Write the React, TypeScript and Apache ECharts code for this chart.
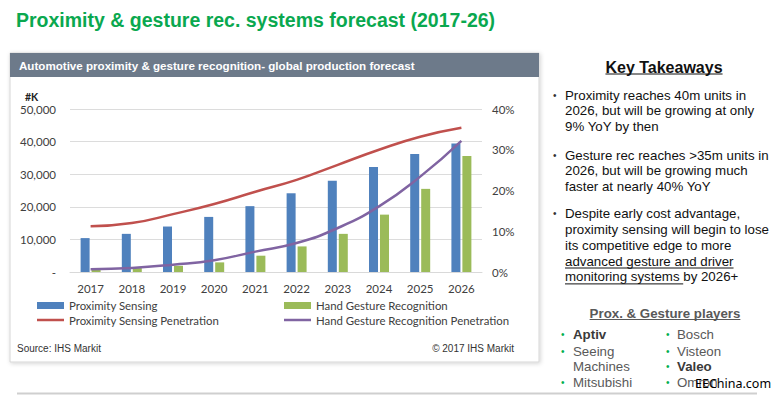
import React, { useEffect, useRef } from 'react';
import * as echarts from 'echarts';

const years = ['2017', '2018', '2019', '2020', '2021', '2022', '2023', '2024', '2025', '2026'];
const proximityUnits = [10400, 11700, 13950, 16900, 20200, 24150, 28000, 32200, 36200, 39450];
const gestureUnits = [700, 1200, 1900, 2950, 5000, 7850, 11700, 17600, 25500, 35550];
const proximityPenetration = [11.2, 12.0, 14.2, 16.7, 19.7, 22.6, 26.3, 30.0, 33.2, 35.4];
const gesturePenetration = [0.7, 1.0, 1.8, 2.9, 5.0, 7.1, 10.8, 16.1, 23.4, 32.2];

const leftAxisMax = 50000;
const leftAxisStep = 10000;
const rightAxisMax = 40;
const rightAxisStep = 10;

const pageTitle = 'Proximity & gesture rec. systems forecast (2017-26)';
const chartHeader = 'Automotive proximity & gesture recognition- global production forecast';
const unitLabel = '#K';
const sourceText = 'Source: IHS Markit';
const copyrightText = '© 2017 IHS Markit';

const takeawaysTitle = 'Key Takeaways';
const bullet1 = ['Proximity reaches 40m units in', '2026, but will be growing at only', '9% YoY by then'];
const bullet2 = ['Gesture rec reaches >35m units in', '2026, but will be growing much', 'faster at nearly 40% YoY'];
const bullet3 = ['Despite early cost advantage,', 'proximity sensing will begin to lose', 'its competitive edge to more'];
const bullet3Underlined = ['advanced gesture and driver', 'monitoring systems '];
const bullet3Tail = 'by 2026+';

const playersTitle = 'Prox. & Gesture players';
const playersCol1 = [
  { name: 'Aptiv', bold: true, bullet: true },
  { name: 'Seeing', bold: false, bullet: true },
  { name: 'Machines', bold: false, bullet: false },
  { name: 'Mitsubishi', bold: false, bullet: true },
];
const playersCol2 = [
  { name: 'Bosch', bold: false, bullet: true },
  { name: 'Visteon', bold: false, bullet: true },
  { name: 'Valeo', bold: true, bullet: true },
  { name: 'Omron', bold: false, bullet: true },
];
const watermark = 'EEChina.com';

const ARIAL = "'Liberation Sans', Arial, sans-serif";
const CAL = "Lato, 'Noto Sans', sans-serif";

function measure(text: string, font: string): number {
  const ctx = document.createElement('canvas').getContext('2d');
  if (!ctx) return text.length * 7;
  ctx.font = font;
  return ctx.measureText(text).width;
}

export default function App() {
  const ref = useRef<HTMLDivElement>(null);

  useEffect(() => {
    if (!ref.current) return;
    const chart = echarts.init(ref.current, null, { renderer: 'svg' });

    const g: any[] = [];
    // chart panel
    g.push({
      type: 'rect', z: -10,
      shape: { x: 10, y: 53, width: 529, height: 309 },
      style: { fill: '#ffffff', stroke: '#d6d6d6', lineWidth: 1, shadowBlur: 4, shadowOffsetX: 1, shadowOffsetY: 1, shadowColor: 'rgba(0,0,0,0.18)' },
    });
    g.push({
      type: 'rect', z: -9,
      shape: { x: 10, y: 53, width: 529, height: 24 },
      style: { fill: '#6d7a8a' },
    });
    g.push({
      type: 'text', x: 19, y: 65,
      style: { text: chartHeader, fill: '#ffffff', font: `bold 11.6px ${ARIAL}`, verticalAlign: 'middle' },
    });
    g.push({
      type: 'text', x: 16, y: 20,
      style: { text: pageTitle, fill: '#0aa84f', font: `bold 19.5px ${ARIAL}`, verticalAlign: 'middle' },
    });
    g.push({
      type: 'text', x: 25, y: 97,
      style: { text: unitLabel, fill: '#222222', font: `bold 10.5px ${CAL}`, lineHeight: 10, verticalAlign: 'middle' },
    });
    g.push({
      type: 'text', x: 17, y: 348,
      style: { text: sourceText, fill: '#333333', font: `10px ${ARIAL}`, verticalAlign: 'middle' },
    });
    g.push({
      type: 'text', x: 514, y: 348,
      style: { text: copyrightText, fill: '#333333', font: `10px ${ARIAL}`, verticalAlign: 'middle', align: 'right' },
    });
    // bottom rule
    g.push({
      type: 'line', shape: { x1: 17, y1: 393.5, x2: 757, y2: 393.5 },
      style: { stroke: '#cfcfcf', lineWidth: 2 },
    });

    // Key takeaways
    const ktFont = `bold 16px ${ARIAL}`;
    const ktW = measure(takeawaysTitle, ktFont);
    const ktX = 664 - ktW / 2;
    g.push({ type: 'text', x: ktX, y: 67, style: { text: takeawaysTitle, fill: '#111111', font: ktFont, verticalAlign: 'middle' } });
    g.push({ type: 'line', shape: { x1: ktX, y1: 74, x2: ktX + ktW, y2: 74 }, style: { stroke: '#111111', lineWidth: 1.2 } });

    const bFont = `13.3px ${ARIAL}`;
    const addBullet = (lines: string[], y0: number) => {
      g.push({ type: 'text', x: 553, y: y0, style: { text: '•', fill: '#333333', font: `10px ${ARIAL}`, verticalAlign: 'middle' } });
      lines.forEach((t, i) => {
        g.push({ type: 'text', x: 565, y: y0 + i * 15.9, style: { text: t, fill: '#111111', font: bFont, verticalAlign: 'middle' } });
      });
    };
    addBullet(bullet1, 95);
    addBullet(bullet2, 155);
    addBullet(bullet3, 213.3);
    bullet3Underlined.forEach((t, i) => {
      const y = 213.3 + (3 + i) * 15.9;
      g.push({ type: 'text', x: 565, y, style: { text: t, fill: '#111111', font: bFont, verticalAlign: 'middle' } });
      const w = measure(t, bFont);
      g.push({ type: 'line', shape: { x1: 565, y1: y + 7, x2: 565 + w, y2: y + 7 }, style: { stroke: '#111111', lineWidth: 1 } });
      if (i === bullet3Underlined.length - 1) {
        g.push({ type: 'text', x: 565 + w, y, style: { text: bullet3Tail, fill: '#111111', font: bFont, verticalAlign: 'middle' } });
      }
    });

    // players
    const pFont = `bold 13.3px ${ARIAL}`;
    const pW = measure(playersTitle, pFont);
    const pX = 665 - pW / 2;
    g.push({ type: 'text', x: pX, y: 313, style: { text: playersTitle, fill: '#595959', font: pFont, verticalAlign: 'middle' } });
    g.push({ type: 'line', shape: { x1: pX, y1: 319.5, x2: pX + pW, y2: 319.5 }, style: { stroke: '#595959', lineWidth: 1 } });
    const rowsY = [334.3, 351, 366.8, 382.8];
    const addCol = (items: any[], bx: number, tx: number) => {
      items.forEach((it, i) => {
        if (it.bullet) {
          g.push({ type: 'text', x: bx, y: rowsY[i], style: { text: '•', fill: '#00b050', font: `10px ${ARIAL}`, verticalAlign: 'middle' } });
        }
        g.push({
          type: 'text', x: tx, y: rowsY[i],
          style: { text: it.name, fill: it.bold ? '#3a3a3a' : '#595959', font: `${it.bold ? 'bold ' : ''}13.3px ${ARIAL}`, verticalAlign: 'middle' },
        });
      });
    };
    addCol(playersCol1, 561, 573);
    addCol(playersCol2, 666, 677);
    g.push({ type: 'text', x: 695, y: 383, z: 100, style: { text: watermark, fill: '#000000', font: `12.5px 'Noto Sans', sans-serif`, verticalAlign: 'middle' } });

    const legendText = { color: '#404040', fontFamily: CAL, fontSize: 11.4 };
    const legendBase = { selectedMode: false, itemWidth: 27, textStyle: legendText, padding: 0, itemGap: 0 };

    chart.setOption({
      animation: false,
      backgroundColor: '#ffffff',
      graphic: { elements: g },
      legend: [
        { ...legendBase, itemHeight: 7, data: [{ name: 'Proximity Sensing', icon: 'rect' }], left: 37, top: 300 },
        { ...legendBase, itemHeight: 7, data: [{ name: 'Hand Gesture Recognition', icon: 'rect' }], left: 284, top: 300 },
        { ...legendBase, itemHeight: 2.5, data: [{ name: 'Proximity Sensing Penetration', icon: 'rect' }], left: 37, top: 314.5 },
        { ...legendBase, itemHeight: 2.5, data: [{ name: 'Hand Gesture Recognition Penetration', icon: 'rect' }], left: 284, top: 314.5 },
      ],
      grid: { left: 70, top: 109, width: 412, height: 163, containLabel: false },
      xAxis: {
        type: 'category',
        data: years,
        axisLine: { lineStyle: { color: '#d9d9d9' } },
        axisTick: { show: false },
        axisLabel: { color: '#404040', fontFamily: CAL, fontSize: 11.5, margin: 10 },
      },
      yAxis: [
        {
          type: 'value', min: 0, max: leftAxisMax, interval: leftAxisStep, position: 'left',
          axisLine: { show: false }, axisTick: { show: false },
          axisLabel: {
            color: '#404040', fontFamily: CAL, fontSize: 11.5, lineHeight: 11, margin: 14,
            formatter: (v: number) => (v === 0 ? '-' : v.toLocaleString('en-US')),
          },
          splitLine: { lineStyle: { color: '#dcdcdc', width: 1 } },
        },
        {
          type: 'value', min: 0, max: rightAxisMax, interval: rightAxisStep, position: 'right',
          axisLine: { show: false }, axisTick: { show: false },
          axisLabel: { color: '#404040', fontFamily: CAL, fontSize: 11.5, lineHeight: 11, margin: 10, formatter: '{value}%' },
          splitLine: { show: false },
        },
      ],
      series: [
        { name: 'Proximity Sensing', type: 'bar', data: proximityUnits, barWidth: 9, barGap: '22%', itemStyle: { color: '#4f81bd' } },
        { name: 'Hand Gesture Recognition', type: 'bar', data: gestureUnits, barWidth: 9, barGap: '22%', itemStyle: { color: '#9bbb59' } },
        {
          name: 'Proximity Sensing Penetration', type: 'line', yAxisIndex: 1, data: proximityPenetration,
          smooth: true, symbol: 'none', lineStyle: { color: '#c0504d', width: 2.5 }, itemStyle: { color: '#c0504d' }, z: 5,
        },
        {
          name: 'Hand Gesture Recognition Penetration', type: 'line', yAxisIndex: 1, data: gesturePenetration,
          smooth: true, symbol: 'none', lineStyle: { color: '#8064a2', width: 2.5 }, itemStyle: { color: '#8064a2' }, z: 5,
        },
      ],
    });

    return () => chart.dispose();
  }, []);

  return <div ref={ref} style={{ position: 'fixed', left: 0, top: 0, width: 777, height: 395 }} />;
}
